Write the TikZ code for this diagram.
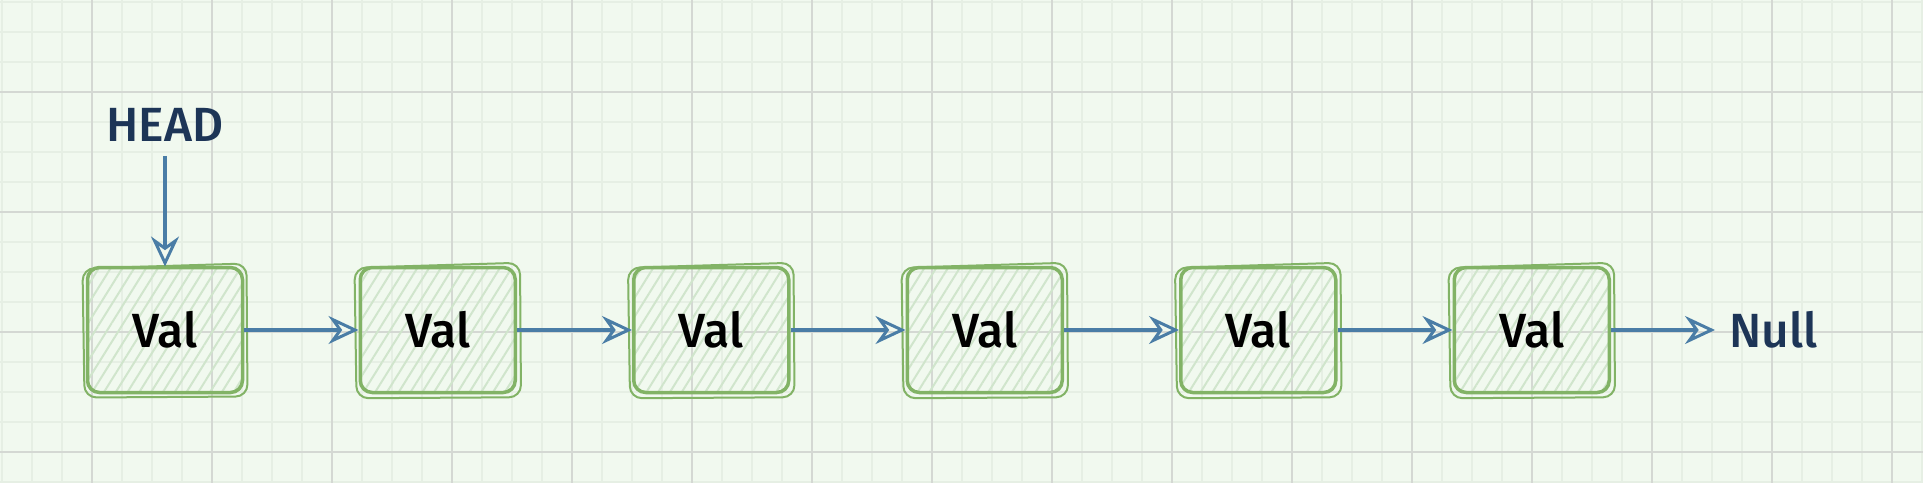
\documentclass[tikz,border=0pt]{standalone}
\usepackage{fontspec}
\setmainfont{Fira Sans}[UprightFont={* Medium}]
\usepackage{tikz}
\usetikzlibrary{arrows.meta, positioning, patterns.meta}
\definecolor{paper}{HTML}{F1F9EF}
\definecolor{minorgrid}{HTML}{E6EFE4}
\definecolor{majorgrid}{HTML}{D4D8D3}
\definecolor{cellline}{HTML}{82B366}
\definecolor{hatch}{HTML}{D0E5CC}
\definecolor{linkblue}{HTML}{4A7DA6}
\definecolor{ink}{HTML}{1D3557}
\tikzset{
    x=1pt, y=-1pt, node distance = 115pt, % gap between one list cell and the next
    cell/.style = {rectangle, rounded corners=12pt, draw=cellline, line width=3.5pt,
        minimum width=155pt, minimum height=125pt,
        pattern={Lines[angle=58, distance=10pt, line width=2pt]}, pattern color=hatch,
        font=\fontsize{48}{56}\selectfont}, % one node of the list
    sketch/.style = {draw=cellline, line width=2pt, rounded corners=12pt}, % second stroke of a cell
    tag/.style = {text=ink, inner sep=14pt, font=\fontsize{48}{56}\selectfont},
    link/.style = {-{Stealth[open, length=30pt, width=28pt, inset=10pt, line width=3pt]},
        draw=linkblue, line width=3.5pt}, % the pointer from one cell to the next
    minorline/.style = {draw=minorgrid, line width=1.2pt},
    majorline/.style = {draw=majorgrid, line width=1.8pt}
}
\begin{document}
\begin{tikzpicture}
    % paper with grid
    \fill[paper] (0,0) rectangle (1923,483);
    \useasboundingbox (0,0) rectangle (1923,483);
    \foreach \x in {2,32,...,1922} \draw[minorline] (\x,0) -- (\x,483);
    \foreach \y in {2,32,...,482} \draw[minorline] (0,\y) -- (1923,\y);
    \foreach \x in {92,212,...,1892} \draw[majorline] (\x,0) -- (\x,483);
    \foreach \y in {92,212,...,452} \draw[majorline] (0,\y) -- (1923,\y);

    % the cells
    \node[cell] (val1) at (165,330) {Val};
    \node[cell] (val2) [right =of val1] {Val};
    \node[cell] (val3) [right =of val2] {Val};
    \node[cell] (val4) [right =of val3] {Val};
    \node[cell] (val5) [right =of val4] {Val};
    \node[cell] (val6) [right =of val5] {Val};
    \node[tag] (head) at (165,125) {HEAD};
    \node[tag] (null) [right =104pt of val6] {Null};

    % hand drawn look: each cell is stroked a second time, a little askew
    \foreach \c in {val1,val2,val3,val4,val5,val6}
        \draw[sketch] ([shift={(-4,2)}]\c.north west) -- ([shift={(3,-3)}]\c.north east)
            -- ([shift={(4,3)}]\c.south east) -- ([shift={(-2,4)}]\c.south west) -- cycle;

    % the pointers
    \draw[link] (head) -- (val1);
    \draw[link] (val1) -- (val2);
    \draw[link] (val2) -- (val3);
    \draw[link] (val3) -- (val4);
    \draw[link] (val4) -- (val5);
    \draw[link] (val5) -- (val6);
    \draw[link] (val6) -- (null);
\end{tikzpicture}
\end{document}
